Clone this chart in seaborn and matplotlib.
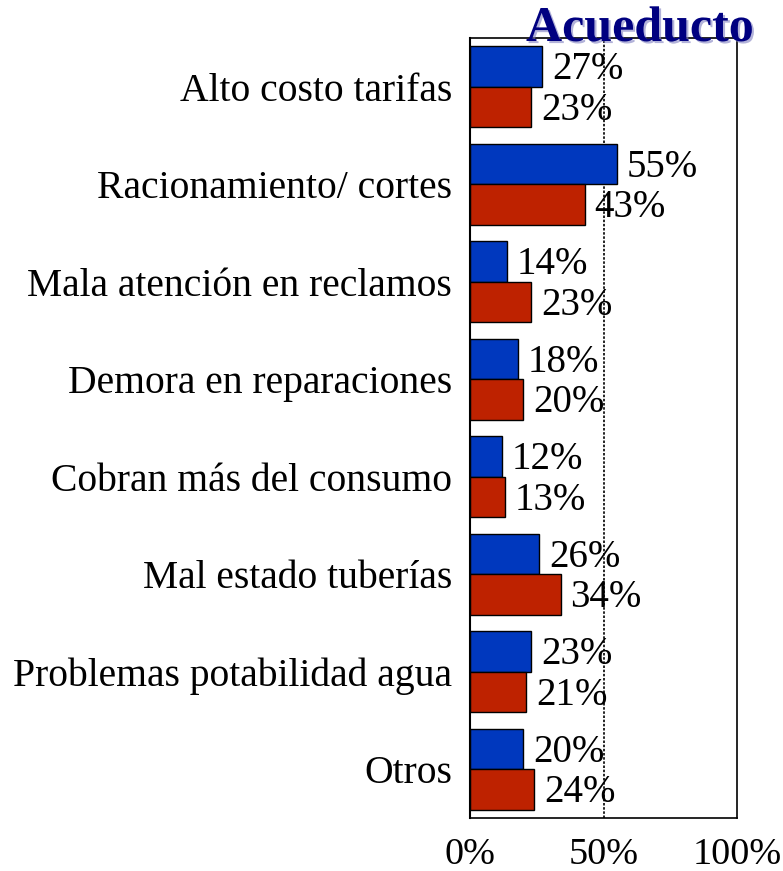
import matplotlib
matplotlib.use("Agg")
import matplotlib.pyplot as plt
import matplotlib.patheffects as pe
import seaborn as sns
import pandas as pd

categories = ["Alto costo tarifas", "Racionamiento/ cortes", "Mala atención en reclamos",
              "Demora en reparaciones", "Cobran más del consumo", "Mal estado tuberías",
              "Problemas potabilidad agua", "Otros"]
serie_azul = [27, 55, 14, 18, 12, 26, 23, 20]
serie_roja = [23, 43, 23, 20, 13, 34, 21, 24]
series_names = ["Serie 1", "Serie 2"]
x_ticks = [0, 50, 100]
x_ticklabels = ["0%", "50%", "100%"]
title = "Acueducto"

df = pd.DataFrame({
    "categoria": categories * 2,
    "valor": serie_azul + serie_roja,
    "serie": [series_names[0]] * len(categories) + [series_names[1]] * len(categories),
})

sns.set_style("white")
plt.rcParams["font.family"] = ["Liberation Serif", "DejaVu Serif"]
for k in ["text.color", "axes.labelcolor", "xtick.color", "ytick.color"]:
    plt.rcParams[k] = "black"

fig = plt.figure(figsize=(7.83, 8.71), dpi=100)
ax = fig.add_axes([470/783, 1-818/871, (737-470)/783, (818-38)/871])

sns.barplot(data=df, y="categoria", x="valor", hue="serie", orient="h",
            palette=["#0038BE", "#BE2200"], width=0.83, edgecolor="black",
            linewidth=1.0, legend=False, ax=ax, errorbar=None, saturation=1)

for cont in ax.containers:
    texts = ax.bar_label(cont, labels=[f"{int(round(v))}%" for v in cont.datavalues],
                         padding=7, fontsize=28, color="black")
    for t in texts:
        t.xyann = (7, -2.5)

ax.set_xlim(0, 100)
ax.set_ylim(len(categories) - 0.5, -0.5)
ax.set_xticks(x_ticks)
ax.set_xticklabels(x_ticklabels, fontsize=27.5)
ax.tick_params(axis="y", labelsize=28.5, length=0, pad=13)
ax.tick_params(axis="x", length=0, pad=14)
ax.set_xlabel("")
ax.set_ylabel("")
ax.axvline(50, color="black", linestyle=(0, (1.5, 1)), linewidth=1.2, zorder=0)
for side in ["top", "right", "bottom"]:
    ax.spines[side].set_linestyle((0, (1.5, 1)))
    ax.spines[side].set_linewidth(1.2)
    ax.spines[side].set_color("black")
ax.spines["left"].set_linewidth(1.5)
ax.spines["left"].set_color("black")

fig.text(640/783, 1-41/871, title, ha="center", va="baseline", fontsize=36,
         fontweight="bold", color="#000080",
         path_effects=[pe.withSimplePatchShadow(offset=(1.5, -1.5), shadow_rgbFace="#8080c0", alpha=0.6)])

fig.savefig("out.png", dpi=100)
